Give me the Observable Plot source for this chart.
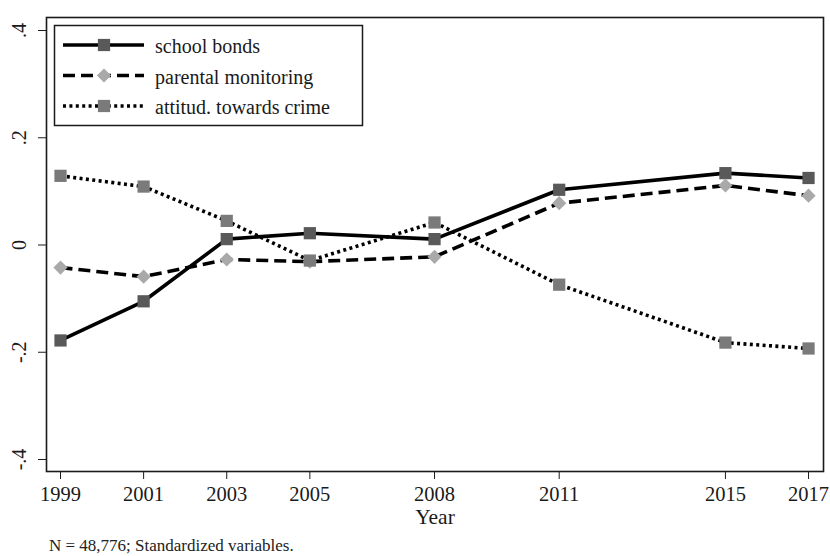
<!DOCTYPE html>
<html>
<head>
<meta charset="utf-8">
<script src="https://cdn.jsdelivr.net/npm/d3@7"></script>
<script src="https://cdn.jsdelivr.net/npm/@observablehq/plot@0.6"></script>
<style>
  html, body { margin: 0; padding: 0; background: white; }
  #wrap { position: relative; width: 830px; }
  #caption { font-family: "Liberation Serif", "Times New Roman", serif; font-size: 17px; line-height: 18px; margin-top: 7px; padding-left: 49px; color: #222; }
  #legend { position: absolute; left: 0; top: 0; pointer-events: none; }
</style>
</head>
<body>
<div id="wrap">
  <div id="chart"></div>
  <svg id="legend" width="830" height="140"></svg>
  <div id="caption"></div>
</div>
<script>
// ---- data ----
const years = [1999, 2001, 2003, 2005, 2008, 2011, 2015, 2017];
const schoolBonds = [-0.178, -0.105, 0.011, 0.022, 0.011, 0.103, 0.134, 0.125];
const parentalMonitoring = [-0.042, -0.059, -0.027, -0.031, -0.022, 0.078, 0.111, 0.092];
const attitudesCrime = [0.129, 0.109, 0.045, -0.029, 0.042, -0.074, -0.182, -0.193];
const seriesNames = ["school bonds", "parental monitoring", "attitud. towards crime"];
const yTicks = [-0.4, -0.2, 0, 0.2, 0.4];
const xTitle = "Year";
const captionText = "N = 48,776; Standardized variables.";

// ---- styles ----
const FONT = "Liberation Serif, Times New Roman, serif";
const styles = [
  {dash: null, symbol: "square", fill: "#595959", r: 6.9},
  {dash: "12,6", symbol: "diamond2", fill: "#a9a9a9", r: 6.4},
  {dash: "3,3.4", symbol: "square", fill: "#7a7a7a", r: 6.9}
];
const seriesValues = [schoolBonds, parentalMonitoring, attitudesCrime];
const tables = seriesValues.map((vals, s) => years.map((yr, i) => ({year: yr, v: vals[i], series: seriesNames[s]})));

const fmtY = d => String(d).replace("0.", ".");

const marks = [
  Plot.frame({stroke: "#1a1a1a", strokeWidth: 1.6}),
  Plot.axisX({ticks: years, tickFormat: d => String(d), tickSize: 8, tickPadding: 7, fontSize: 20.5, label: null, stroke: "#1a1a1a", fill: "#1a1a1a"}),
  Plot.axisY({ticks: yTicks, tickSize: 8, tickFormat: () => "", label: null, stroke: "#1a1a1a"}),
  Plot.text(yTicks, {y: d => d, text: fmtY, frameAnchor: "left", dx: -27, rotate: -90, textAnchor: "middle", fontSize: 20, fill: "#1a1a1a"}),
  Plot.text([xTitle], {frameAnchor: "bottom", text: d => d, dy: 52, fontSize: 21.5, fill: "#1a1a1a"})
];
tables.forEach((t, s) => {
  const st = styles[s];
  marks.push(Plot.line(t, {x: "year", y: "v", stroke: "black", strokeWidth: 3.6, strokeDasharray: st.dash, strokeLinecap: "butt", strokeLinejoin: "miter"}));
  marks.push(Plot.dot(t, {x: "year", y: "v", symbol: () => st.symbol, fill: st.fill, r: st.r, stroke: "none"}));
});

const chart = Plot.plot({
  width: 830,
  height: 530,
  marginLeft: 46,
  marginRight: 7,
  marginTop: 17,
  marginBottom: 59,
  x: {domain: [1998.663, 2017.36]},
  y: {domain: [-0.4224, 0.4243]},
  symbol: {type: "identity"},
  style: {fontFamily: FONT, background: "white", color: "#1a1a1a"},
  marks
});
document.getElementById("chart").appendChild(chart);
document.getElementById("caption").textContent = captionText;

// ---- legend (inside the plot frame, top-left) ----
const lg = d3.select("#legend");
lg.append("rect").attr("x", 54.5).attr("y", 25.5).attr("width", 308).attr("height", 100)
  .attr("fill", "white").attr("stroke", "#1a1a1a").attr("stroke-width", 1.5);
const rowY = [45, 75.5, 106];
seriesNames.forEach((name, s) => {
  const st = styles[s];
  const y = rowY[s];
  lg.append("line").attr("x1", 63).attr("x2", 144).attr("y1", y).attr("y2", y)
    .attr("stroke", "black").attr("stroke-width", 3.6)
    .attr("stroke-dasharray", st.dash);
  const sym = st.symbol === "square" ? d3.symbolSquare : d3.symbolDiamond2;
  lg.append("path").attr("d", d3.symbol(sym, Math.PI * st.r * st.r)())
    .attr("transform", `translate(104,${y})`).attr("fill", st.fill);
  lg.append("text").attr("x", 155).attr("y", y + 2).attr("dy", "0.32em")
    .attr("font-family", FONT).attr("font-size", 20).attr("fill", "#1a1a1a").text(name);
});
</script>
</body>
</html>
